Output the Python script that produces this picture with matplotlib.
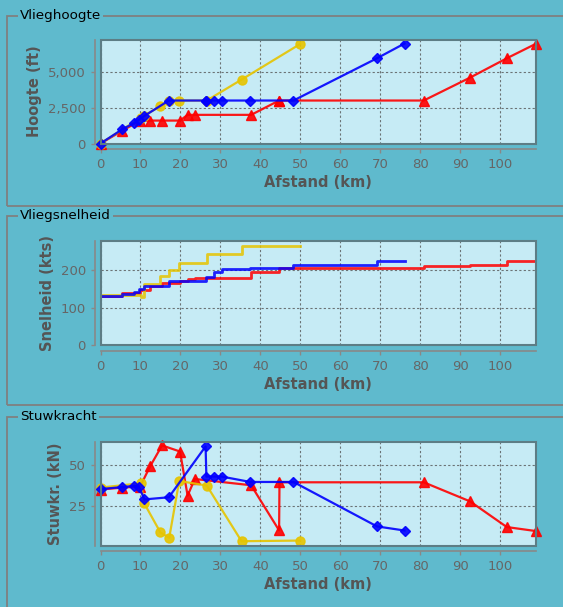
import matplotlib.pyplot as plt
from matplotlib.patches import Rectangle
from matplotlib.ticker import MultipleLocator, StrMethodFormatter

# Data per route: waypoint distance (km), altitude (ft), speed (kts, held until next waypoint), thrust (kN)
red_dist = [0, 5.5, 9.9, 12.4, 15.4, 19.9, 21.8, 23.6, 37.7, 44.7, 44.8, 80.9, 92.5, 101.7, 108.9]
red_alt = [0, 900, 1600, 1600, 1600, 1600, 2000, 2000, 2000, 3000, 3000, 3000, 4600, 5950, 6950]
red_speed = [132, 139, 148, 157, 166, 172, 176, 179, 195, 205, 205, 212, 215, 224, 224]
red_thrust = [34.8, 36.0, 36.6, 48.8, 61.6, 57.9, 31.1, 41.2, 37.4, 10.0, 39.2, 39.2, 27.6, 12.0, 9.6]

blue_dist = [0, 5.5, 8.4, 9.6, 11.0, 17.1, 26.3, 26.5, 28.4, 30.3, 37.5, 48.3, 69.2, 76.1]
blue_alt = [0, 1000, 1420, 1650, 1930, 3000, 3000, 3000, 3000, 3000, 3000, 3000, 5950, 6980]
blue_speed = [131, 135, 142, 150, 157, 170, 182, 182, 196, 202, 205, 213, 224, 224]
blue_thrust = [35.1, 36.3, 37.0, 36.6, 28.8, 30.1, 61.0, 42.7, 42.7, 42.7, 39.4, 39.4, 12.4, 9.9]

yellow_dist = [0, 10.1, 10.95, 15.0, 17.2, 19.7, 26.6, 35.3, 50.0]
yellow_alt = [0, 1800, 1950, 2600, 2950, 3000, 3000, 4460, 6950]
yellow_speed = [133, 129, 162, 184, 200, 220, 243, 265, 265]
yellow_thrust = [36.0, 38.6, 26.4, 8.7, 5.5, 40.0, 37.2, 3.4, 3.8]

series = [
    ('#ff0000', '^', red_dist, red_alt, red_speed, red_thrust),
    ('#e6c400', 'o', yellow_dist, yellow_alt, yellow_speed, yellow_thrust),
    ('#0000ff', 'D', blue_dist, blue_alt, blue_speed, blue_thrust),
]

bg = '#5fbacd'
plot_bg = '#c6ebf5'
border = '#808080'

W, H = 563, 607
fig = plt.figure(figsize=(W / 100, H / 100), dpi=100, facecolor=bg)


def px_box(x0, y0, x1, y1):
    # pixel rect (top-left origin) -> figure fraction [l, b, w, h]
    return [x0 / W, 1 - y1 / H, (x1 - x0) / W, (y1 - y0) / H]


# group boxes with titles
boxes = [(16, 206, 'Vlieghoogte'), (216, 405, 'Vliegsnelheid'), (417, 640, 'Stuwkracht')]
for top, bottom, title in boxes:
    l, b, w, h = px_box(7, top, 600, bottom)
    fig.patches.append(Rectangle((l, b), w, h, transform=fig.transFigure, fill=False,
                                 edgecolor=border, linewidth=1.3))
    fig.text(20 / W, 1 - top / H, title, fontsize=9.7, color='black', va='center', ha='left',
             bbox=dict(facecolor=bg, edgecolor='none', pad=1.5))

panels = [
    ((39.5, 143.5), 'Hoogte (ft)', (0, 7260), 2500),
    ((241, 345), 'Snelheid (kts)', (0, 278), 100),
    ((442.3, 545.5), 'Stuwkr. (kN)', (0.8, 63.5), 25),
]

for i, ((top, bottom), ylabel, ylim, ystep) in enumerate(panels):
    ax = fig.add_axes(px_box(100.5, top, 536, bottom))
    ax.set_facecolor(plot_bg)
    for color, marker, dist, alt, speed, thrust in series:
        msize = 5 if marker == 'D' else 6.5
        if i == 0:
            ax.plot(dist, alt, color=color, marker=marker, markersize=msize,
                    linewidth=1.6, alpha=0.9, clip_on=False, zorder=3)
        elif i == 1:
            ax.plot(dist, speed, color=color, drawstyle='steps-post', linewidth=2.0,
                    alpha=0.85, zorder=3)
        else:
            ax.plot(dist, thrust, color=color, marker=marker, markersize=msize,
                    linewidth=1.6, alpha=0.9, clip_on=False, zorder=3)

    ax.set_xlim(0, 109)
    ax.set_ylim(*ylim)
    ax.xaxis.set_major_locator(MultipleLocator(10))
    ax.yaxis.set_major_locator(MultipleLocator(ystep))
    if i == 0:
        ax.yaxis.set_major_formatter(StrMethodFormatter('{x:,.0f}'))
    ax.grid(True, color='#555555', linestyle=(0, (2, 2)), linewidth=0.8, alpha=0.8)
    ax.set_axisbelow(True)

    for side in ['top', 'right']:
        ax.spines[side].set_visible(False)
    for side in ['left', 'bottom']:
        ax.spines[side].set_position(('outward', 4))
        ax.spines[side].set_color('#888888')
        ax.spines[side].set_linewidth(1.2)
    ax.add_patch(Rectangle((0, 0), 1, 1, transform=ax.transAxes, fill=False,
                           edgecolor='#5d7d85', linewidth=1.5, zorder=4, clip_on=False))

    ax.tick_params(colors='#888888', labelcolor='#666666', labelsize=9.5, length=3, width=1)
    ax.set_xlabel('Afstand (km)', fontsize=10.5, fontweight='bold', color='#555555', labelpad=3)
    ax.set_ylabel(ylabel, fontsize=10.5, fontweight='bold', color='#555555', labelpad=4)

plt.savefig('out.png', dpi=100, facecolor=bg)
